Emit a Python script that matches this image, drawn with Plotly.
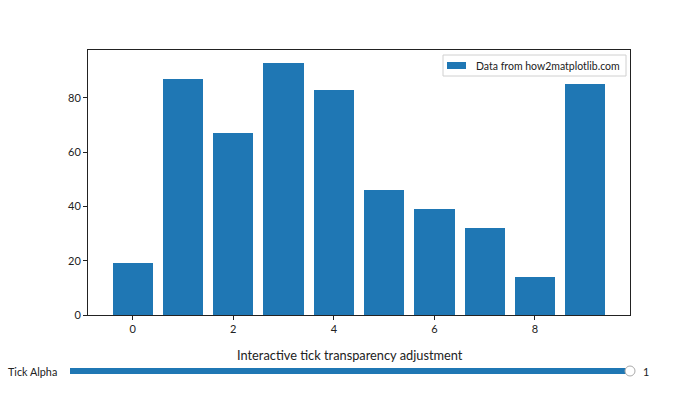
import plotly.graph_objects as go

categories = list(range(10))
values = [19, 87, 67, 93, 83, 46, 39, 32, 14, 85]
series_name = "Data from how2matplotlib.com"
x_ticks = [0, 2, 4, 6, 8]
y_ticks = [0, 20, 40, 60, 80]
slider_label = "Tick Alpha"
slider_value = 1
slider_title = "Interactive tick transparency adjustment"

W, H = 700, 420
L, R, T, B = 88, 70, 50, 105
pw, ph = W - L - R, H - T - B
BLUE = "#1f77b4"

def px_x(p):
    return (p - L) / pw

def px_y(p):
    return (H - B - p) / ph

FONT = "Lato"
fig = go.Figure()
fig.add_trace(go.Bar(x=categories, y=values, width=0.8, name=series_name,
                     marker=dict(color=BLUE, line=dict(width=0)),
                     showlegend=False))

fig.update_layout(
    width=W, height=H, margin=dict(l=L, r=R, t=T, b=B),
    paper_bgcolor="white", plot_bgcolor="white",
    font=dict(family=FONT, size=11, color="#222"),
    bargap=0,
    showlegend=False,
    xaxis=dict(range=[-0.89, 9.89], tickvals=x_ticks, showgrid=False, zeroline=False,
               showline=True, linecolor="#222", linewidth=1, mirror=True,
               ticks="outside", ticklen=4, tickcolor="#222"),
    yaxis=dict(range=[0, 97.65], tickvals=y_ticks, showgrid=False, zeroline=False,
               showline=True, linecolor="#222", linewidth=1, mirror=True,
               ticks="outside", ticklen=4, tickcolor="#222"),
)

# legend box (matplotlib style)
fig.add_shape(type="rect", xref="paper", yref="paper",
              x0=px_x(443), x1=px_x(626), y0=px_y(76), y1=px_y(55),
              fillcolor="white", line=dict(color="#d0d0d0", width=1), layer="above")
fig.add_shape(type="rect", xref="paper", yref="paper",
              x0=px_x(447), x1=px_x(466), y0=px_y(69), y1=px_y(62),
              fillcolor=BLUE, line=dict(width=0), layer="above")
fig.add_annotation(xref="paper", yref="paper", x=px_x(474), y=px_y(65.5),
                   text=series_name, showarrow=False, xanchor="left", yanchor="middle",
                   font=dict(size=10.5, family=FONT, color="#222"))

# slider decoration
track_y = 371
fig.add_shape(type="rect", xref="paper", yref="paper",
              x0=px_x(70), x1=px_x(630), y0=px_y(374), y1=px_y(368),
              fillcolor=BLUE, line=dict(width=0))
fig.add_shape(type="circle", xref="paper", yref="paper",
              x0=px_x(625), x1=px_x(635), y0=px_y(376), y1=px_y(366),
              fillcolor="white", line=dict(color="#aaaaaa", width=1))
fig.add_annotation(xref="paper", yref="paper", x=px_x(59), y=px_y(track_y),
                   text=slider_label, showarrow=False, xanchor="right", yanchor="middle",
                   font=dict(size=10.8, family=FONT, color="#222"))
fig.add_annotation(xref="paper", yref="paper", x=px_x(641), y=px_y(track_y),
                   text=str(slider_value), showarrow=False, xanchor="left", yanchor="middle",
                   font=dict(size=10.8, family=FONT, color="#222"))
fig.add_annotation(xref="paper", yref="paper", x=px_x(350), y=px_y(355),
                   text=slider_title, showarrow=False, xanchor="center", yanchor="middle",
                   font=dict(size=12.8, family=FONT, color="#222"))

fig.write_html("out.html")
